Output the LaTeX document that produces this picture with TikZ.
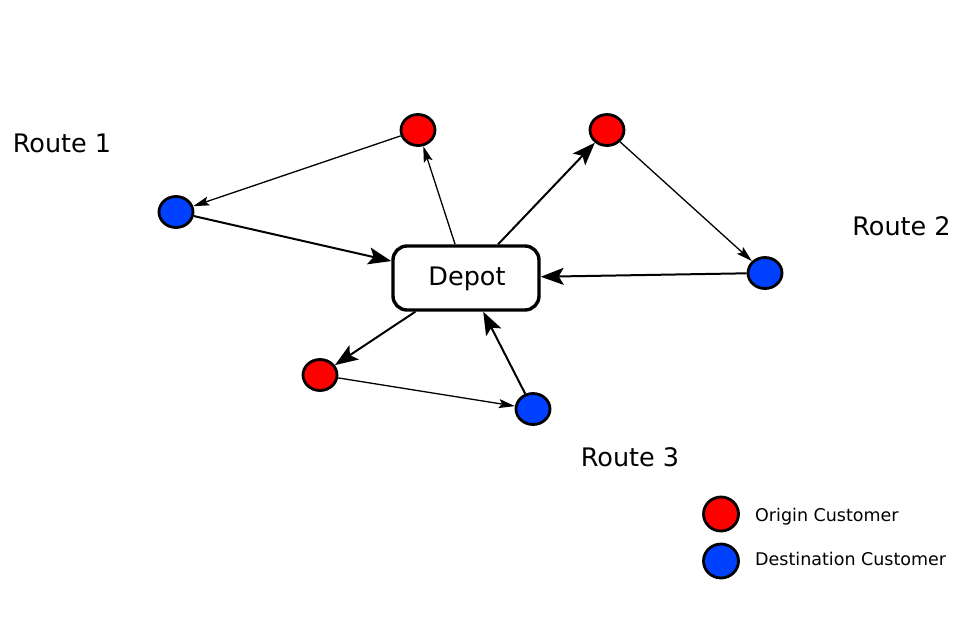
\documentclass[tikz,border=0pt]{standalone}
\usepackage{fontspec}
\setmainfont{DejaVu Sans}
\usetikzlibrary{shapes.geometric,arrows.meta}
\definecolor{origred}{RGB}{255,0,0}
\definecolor{destblue}{RGB}{0,64,255}
\tikzset{
  cust/.style={ellipse,draw=black,line width=2.8pt,minimum width=34pt,minimum height=31pt,inner sep=0pt},
  origin/.style={cust,fill=origred},
  dest/.style={cust,fill=destblue},
  legorigin/.style={origin,minimum width=35pt,minimum height=34pt},
  legdest/.style={dest,minimum width=35pt,minimum height=34pt},
  depotbox/.style={draw=black,line width=3.4pt,rounded corners=14pt,minimum width=146pt,minimum height=64pt,fill=white,inner sep=0pt},
  biglabel/.style={font=\fontsize{25.5}{30}\selectfont,anchor=base,inner sep=0pt},
  leglabel/.style={font=\fontsize{17.5}{21}\selectfont,anchor=base west,inner sep=0pt},
  thinarrow/.style={line width=1.3pt,-{Stealth[length=16pt,width=9pt,inset=3pt]}},
  thickarrow/.style={line width=2pt,-{Stealth[length=23pt,width=17pt,inset=5pt]}}
}
\begin{document}
\begin{tikzpicture}[x=1pt,y=-1pt]
\useasboundingbox (0,0) rectangle (967,630);
\node[depotbox] (depot) at (466,278) {};
\node[biglabel] (depottext) at (467,285) {Depot};
\node[origin] (r1o) at (418,130) {};
\node[dest] (r1d) at (176,212) {};
\node[origin] (r2o) at (607,130) {};
\node[dest] (r2d) at (765,273) {};
\node[origin] (r3o) at (320,375) {};
\node[dest] (r3d) at (533,409) {};
\node[biglabel] (l1) at (62,152) {Route 1};
\node[biglabel] (l2) at (901.5,235.5) {Route 2};
\node[biglabel] (l3) at (630,466) {Route 3};
\draw[thinarrow] (depot) -- (r1o);
\draw[thinarrow] (r1o) -- (r1d);
\draw[thickarrow] (r1d) -- (depot);
\draw[thickarrow] (depot) -- (r2o);
\draw[thinarrow] (r2o) -- (r2d);
\draw[thickarrow] (r2d) -- (depot);
\draw[thickarrow] (depot) -- (r3o);
\draw[thinarrow] (r3o) -- (r3d);
\draw[thickarrow] (r3d) -- (depot);
\node[legorigin] (lo) at (721,514) {};
\node[legdest] (ld) at (721,561) {};
\node[leglabel] (lot) at (755,521.5) {Origin Customer};
\node[leglabel] (ldt) at (755,565) {Destination Customer};
\end{tikzpicture}
\end{document}
